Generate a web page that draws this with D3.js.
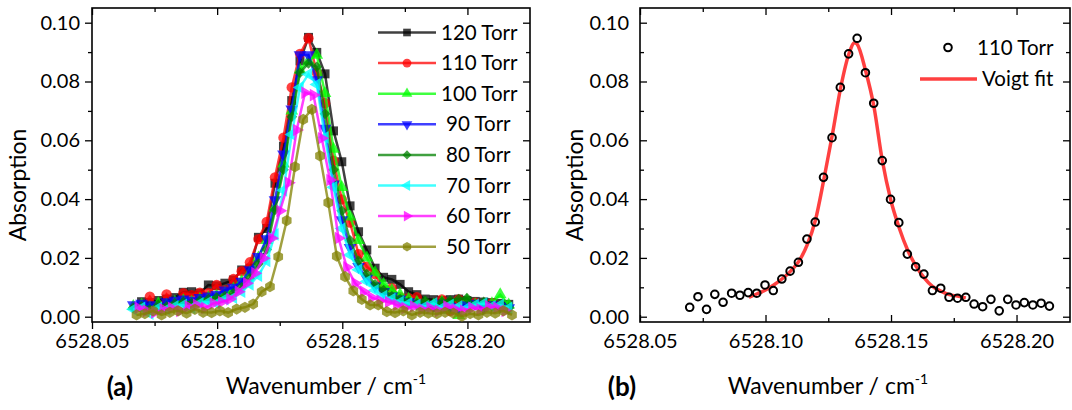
<!DOCTYPE html>
<meta charset="utf-8">
<style>
  body { margin: 0; background: #fff; }
  text { font-family: Lato, "Open Sans", sans-serif; fill: #000; }
</style>
<body>
<script src="https://cdn.jsdelivr.net/npm/d3@7"></script>
<script>
// wavenumber grid of the measurements (cm-1)
var wnGrid = [6528.0665, 6528.0698, 6528.0731, 6528.0765, 6528.0798, 6528.0831, 6528.0865, 6528.0898,
  6528.0931, 6528.0965, 6528.0998, 6528.1031, 6528.1065, 6528.1098, 6528.1131, 6528.1165, 6528.1198,
  6528.1231, 6528.1265, 6528.1298, 6528.1331, 6528.1365, 6528.1398, 6528.1431, 6528.1465, 6528.1498,
  6528.1531, 6528.1565, 6528.1598, 6528.1631, 6528.1665, 6528.1698, 6528.1731, 6528.1765, 6528.1798,
  6528.1831, 6528.1865, 6528.1898, 6528.1931, 6528.1965, 6528.1998, 6528.2031, 6528.2065, 6528.2098,
  6528.2131, 6528.2165];

var pressures = ["120 Torr", "110 Torr", "100 Torr", "90 Torr", "80 Torr", "70 Torr", "60 Torr", "50 Torr"];
// small line-centre shift of some scans (cm-1)
var shifts = [0, 0, 0, 0, 0, 0, 0.002, 0.0013];

var abs120 = [null, 0.0051, 0.0048, 0.0055, 0.0060, 0.0065, 0.0083, 0.0085, 0.0080, 0.0108, 0.0105, 0.0114,
  0.0125, 0.0159, 0.0165, 0.0270, 0.0300, 0.0454, 0.0580, 0.0735, 0.0870, 0.0950, 0.0899, 0.0826, 0.0632,
  0.0527, 0.0377, 0.0289, 0.0227, 0.0165, 0.0134, 0.0127, 0.0110, 0.0085, 0.0075, 0.0060, 0.0058, 0.0055,
  0.0058, 0.0060, 0.0055, 0.0052, 0.0050, 0.0048, 0.0045, 0.0042];
var abs110 = [null, 0.0032, 0.0068, 0.0025, 0.0076, 0.0049, 0.0080, 0.0073, 0.0082, 0.0080, 0.0108, 0.0089,
  0.0128, 0.0155, 0.0185, 0.0264, 0.0322, 0.0474, 0.0609, 0.0780, 0.0894, 0.0947, 0.0830, 0.0726, 0.0531,
  0.0399, 0.0320, 0.0213, 0.0170, 0.0145, 0.0089, 0.0097, 0.0066, 0.0063, 0.0066, 0.0043, 0.0034, 0.0059,
  0.0020, 0.0059, 0.0040, 0.0048, 0.0040, 0.0046, 0.0036, null];
var abs100 = [0.0035, 0.0040, 0.0030, 0.0045, 0.0040, 0.0050, 0.0055, 0.0050, 0.0060, 0.0065, 0.0070, 0.0080,
  0.0095, 0.0120, 0.0150, 0.0200, 0.0260, 0.0370, 0.0520, 0.0700, 0.0840, 0.0870, 0.0890, 0.0760, 0.0570,
  0.0440, 0.0340, 0.0260, 0.0200, 0.0150, 0.0110, 0.0090, 0.0075, 0.0060, 0.0050, 0.0045, 0.0040, 0.0050,
  0.0030, 0.0005, 0.0055, 0.0040, 0.0030, 0.0045, 0.0075, 0.0040];
var abs90 = [0.0040, 0.0045, 0.0040, 0.0035, 0.0050, 0.0055, 0.0060, 0.0055, 0.0065, 0.0070, 0.0075, 0.0090,
  0.0100, 0.0120, 0.0159, 0.0204, 0.0265, 0.0397, 0.0553, 0.0706, 0.0890, 0.0890, 0.0805, 0.0640, 0.0451,
  0.0329, 0.0235, 0.0170, 0.0130, 0.0105, 0.0085, 0.0070, 0.0060, 0.0050, 0.0045, 0.0040, 0.0038, 0.0045,
  0.0035, 0.0030, 0.0040, 0.0045, 0.0030, 0.0040, 0.0035, 0.0030];
var abs80 = [0.0030, 0.0035, 0.0025, 0.0040, 0.0035, 0.0045, 0.0050, 0.0045, 0.0055, 0.0060, 0.0065, 0.0070,
  0.0080, 0.0100, 0.0130, 0.0180, 0.0229, 0.0363, 0.0500, 0.0680, 0.0830, 0.0862, 0.0850, 0.0690, 0.0500,
  0.0360, 0.0260, 0.0190, 0.0145, 0.0110, 0.0090, 0.0070, 0.0060, 0.0050, 0.0045, 0.0055, 0.0040, 0.0050,
  0.0055, 0.0060, 0.0063, 0.0040, 0.0050, 0.0035, 0.0040, 0.0030];
var abs70 = [0.0025, 0.0030, 0.0010, 0.0030, 0.0025, 0.0035, 0.0040, 0.0030, 0.0045, 0.0050, 0.0045, 0.0060,
  0.0065, 0.0085, 0.0110, 0.0140, 0.0190, 0.0280, 0.0430, 0.0620, 0.0780, 0.0825, 0.0790, 0.0610, 0.0440,
  0.0300, 0.0210, 0.0160, 0.0120, 0.0090, 0.0070, 0.0060, 0.0050, 0.0045, 0.0040, 0.0035, 0.0045, 0.0030,
  0.0040, 0.0035, 0.0030, 0.0040, 0.0045, 0.0035, 0.0040, 0.0030];
var abs60 = [0.0030, 0.0020, 0.0015, 0.0025, 0.0030, 0.0020, 0.0035, 0.0040, 0.0030, 0.0045, 0.0050, 0.0060,
  0.0085, 0.0114, 0.0148, 0.0199, 0.0267, 0.0360, 0.0456, 0.0635, 0.0762, 0.0754, 0.0607, 0.0465, 0.0267,
  0.0168, 0.0114, 0.0085, 0.0065, 0.0055, 0.0050, 0.0040, 0.0030, 0.0035, 0.0025, 0.0030, 0.0020, 0.0035,
  0.0025, 0.0020, 0.0030, 0.0025, 0.0035, 0.0030, 0.0020, null];
var abs50 = [0.0006, 0.0010, 0.0020, 0.0006, 0.0015, 0.0020, 0.0012, 0.0025, 0.0015, 0.0014, 0.0020, 0.0014,
  0.0026, 0.0032, 0.0043, 0.0085, 0.0102, 0.0204, 0.0327, 0.0510, 0.0671, 0.0705, 0.0547, 0.0388, 0.0206,
  0.0136, 0.0088, 0.0059, 0.0040, 0.0040, 0.0017, 0.0014, 0.0020, 0.0006, 0.0015, 0.0012, 0.0010, 0.0015,
  0.0012, 0.0002, 0.0010, 0.0006, 0.0015, 0.0012, 0.0020, 0.0006];

// Voigt fit of the 110 Torr scan
var fitWn = [6528.0934, 6528.0967, 6528.1000, 6528.1033, 6528.1068, 6528.1101, 6528.1134, 6528.1166,
  6528.1199, 6528.1232, 6528.1266, 6528.1299, 6528.1333, 6528.1355, 6528.1365, 6528.1398, 6528.1432,
  6528.1465, 6528.1499, 6528.1533, 6528.1566, 6528.1599, 6528.1633, 6528.1665, 6528.1698, 6528.1732,
  6528.1765, 6528.1798];
var fitAbs = [0.0066, 0.0078, 0.0091, 0.0108, 0.0130, 0.0156, 0.0190, 0.0244, 0.0329, 0.0465, 0.0618,
  0.0777, 0.0896, 0.0932, 0.0927, 0.0839, 0.0714, 0.0533, 0.0397, 0.0301, 0.0227, 0.0173, 0.0131, 0.0103,
  0.0087, 0.0075, 0.0070, 0.0064];

var xTicks = [6528.05, 6528.10, 6528.15, 6528.20];
var xMinor = [6528.075, 6528.125, 6528.175];
var yTicks = [0, 0.02, 0.04, 0.06, 0.08, 0.10];
var yMinor = [0.01, 0.03, 0.05, 0.07, 0.09];

var allSeries = [abs120, abs110, abs100, abs90, abs80, abs70, abs60, abs50];
var colors = ["#000000", "#ff0000", "#00ff00", "#0000ff", "#008000", "#00ffff", "#ff00ff", "#808000"];

var svg = d3.select("body").append("svg")
  .attr("width", 1072)
  .attr("height", 410);

// marker shapes
function hexagon(r) {
  var p = d3.path();
  for (var k = 0; k < 6; k++) {
    var a = Math.PI / 6 + k * Math.PI / 3;
    if (k == 0) p.moveTo(r * Math.cos(a), r * Math.sin(a));
    else p.lineTo(r * Math.cos(a), r * Math.sin(a));
  }
  p.closePath();
  return p.toString();
}
var shapes = [
  d3.symbol(d3.symbolSquare, 81)(),
  d3.symbol(d3.symbolCircle, 85)(),
  d3.symbol(d3.symbolTriangle, 70)(),
  d3.symbol(d3.symbolTriangle, 70)(),
  d3.symbol(d3.symbolSquare, 58)(),
  d3.symbol(d3.symbolTriangle, 70)(),
  d3.symbol(d3.symbolTriangle, 70)(),
  hexagon(5.6)
];
var rotations = [0, 0, 0, 180, 45, -90, 90, 0];

function drawAxes(g, x, y, w, h, out) {
  var big = out ? 7 : -7, small = out ? 4 : -4;
  var fmt = d3.format(".2f");

  g.append("g").attr("transform", "translate(0," + h + ")")
    .call(d3.axisBottom(x).tickValues(xTicks).tickFormat(fmt).tickSize(big).tickPadding(out ? 5 : 12));
  g.append("g").attr("transform", "translate(0," + h + ")")
    .call(d3.axisBottom(x).tickValues(xMinor).tickFormat("").tickSize(small));
  g.append("g")
    .call(d3.axisTop(x).tickValues(xTicks).tickFormat("").tickSize(-7));
  g.append("g")
    .call(d3.axisTop(x).tickValues(xMinor).tickFormat("").tickSize(-4));

  g.append("g")
    .call(d3.axisLeft(y).tickValues(yTicks).tickFormat(fmt).tickSize(big).tickPadding(out ? 5 : 11));
  g.append("g")
    .call(d3.axisLeft(y).tickValues(yMinor).tickFormat("").tickSize(small));
  g.append("g").attr("transform", "translate(" + w + ",0)")
    .call(d3.axisRight(y).tickValues(yTicks).tickFormat("").tickSize(-7));
  g.append("g").attr("transform", "translate(" + w + ",0)")
    .call(d3.axisRight(y).tickValues(yMinor).tickFormat("").tickSize(-4));

  g.selectAll(".domain").remove();
  g.selectAll(".tick line").attr("stroke", "#000").attr("stroke-width", 1.3);
  g.selectAll(".tick text")
    .style("font-family", "Lato, 'Open Sans', sans-serif")
    .style("font-size", "20px")
    .attr("fill", "#000");

  g.append("rect")
    .attr("width", w)
    .attr("height", h)
    .attr("fill", "none")
    .attr("stroke", "#000")
    .attr("stroke-width", 1.6);
}

function titles(cx, ax, label) {
  svg.append("text")
    .attr("transform", "translate(" + ax + ",185) rotate(-90)")
    .attr("text-anchor", "middle")
    .attr("dy", "0.35em")
    .style("font-size", "23px")
    .text("Absorption");
  var t = svg.append("text")
    .attr("x", cx)
    .attr("y", 394)
    .attr("text-anchor", "middle")
    .style("font-size", "23px")
    .text("Wavenumber / cm");
  t.append("tspan")
    .attr("dy", -10)
    .style("font-size", "14px")
    .text("-1");
  svg.append("text")
    .attr("x", cx - 206)
    .attr("y", 396)
    .attr("text-anchor", "middle")
    .style("font-size", "26px")
    .style("font-weight", "bold")
    .text(label);
}

// ---------- panel (a) ----------
var hA = 314, wA = 438;
var gA = svg.append("g").attr("transform", "translate(92,8)");
var xA = d3.scaleLinear().domain([6528.05, 6528.225]).range([0, wA]);
var yA = d3.scaleLinear().domain([-0.0018, 0.105]).range([hA, 0]);

drawAxes(gA, xA, yA, wA, hA, true);

allSeries.forEach(function(vals, k) {
  var pts = [];
  vals.forEach(function(v, i) {
    if (v !== null) pts.push({x: wnGrid[i] + shifts[k], y: v});
  });
  var sg = gA.append("g");
  sg.append("path")
    .datum(pts)
    .attr("d", d3.line().x(function(d) { return xA(d.x); }).y(function(d) { return yA(d.y); }))
    .attr("fill", "none")
    .attr("stroke", colors[k])
    .attr("stroke-opacity", 0.75)
    .attr("stroke-width", 2.5);
  sg.selectAll(null)
    .data(pts)
    .enter()
    .append("path")
    .attr("d", shapes[k])
    .attr("transform", function(d) {
      return "translate(" + xA(d.x) + "," + yA(d.y) + ") rotate(" + rotations[k] + ")";
    })
    .attr("fill", colors[k])
    .attr("fill-opacity", 0.75);
});

// legend (a)
var legA = svg.append("g");
pressures.forEach(function(p, k) {
  var ly = 32.5 + k * 30.6;
  legA.append("line")
    .attr("x1", 378).attr("x2", 436)
    .attr("y1", ly).attr("y2", ly)
    .attr("stroke", colors[k])
    .attr("stroke-opacity", 0.75)
    .attr("stroke-width", 2.5);
  legA.append("path")
    .attr("d", shapes[k])
    .attr("transform", "translate(407," + ly + ") rotate(" + rotations[k] + ") scale(0.85)")
    .attr("fill", colors[k])
    .attr("fill-opacity", 0.75);
  legA.append("text")
    .attr("x", p.length > 7 ? 441 : 446)
    .attr("y", ly)
    .attr("dy", "0.35em")
    .style("font-size", "20.5px")
    .text(p);
});

titles(326, 18, "(a)");

// ---------- panel (b) ----------
var wB = 430, hB = 314;
var gB = svg.append("g").attr("transform", "translate(640,8)");
var xB = d3.scaleLinear().domain([6528.05, 6528.2213]).range([0, wB]);
var yB = d3.scaleLinear().domain([-0.0018, 0.105]).range([hB, 0]);

drawAxes(gB, xB, yB, wB, hB, false);

var fitPts = fitWn.map(function(w, i) { return {x: w, y: fitAbs[i]}; });
gB.append("path")
  .datum(fitPts)
  .attr("d", d3.line().curve(d3.curveMonotoneX)
    .x(function(d) { return xB(d.x); })
    .y(function(d) { return yB(d.y); }))
  .attr("fill", "none")
  .attr("stroke", "#ff0000")
  .attr("stroke-opacity", 0.75)
  .attr("stroke-width", 3.5);

var pts110 = [];
abs110.forEach(function(v, i) { if (v !== null) pts110.push({x: wnGrid[i], y: v}); });
gB.selectAll("circle.pt")
  .data(pts110)
  .enter()
  .append("circle")
  .attr("cx", function(d) { return xB(d.x); })
  .attr("cy", function(d) { return yB(d.y); })
  .attr("r", 3.8)
  .attr("fill", "none")
  .attr("stroke", "#000")
  .attr("stroke-width", 2);

// legend (b)
svg.append("circle")
  .attr("cx", 948).attr("cy", 47.5).attr("r", 3.8)
  .attr("fill", "none").attr("stroke", "#000").attr("stroke-width", 2);
svg.append("text")
  .attr("x", 977).attr("y", 47.5).attr("dy", "0.35em")
  .style("font-size", "20.5px")
  .text("110 Torr");
svg.append("line")
  .attr("x1", 920).attr("x2", 977)
  .attr("y1", 79).attr("y2", 79)
  .attr("stroke", "#ff0000").attr("stroke-opacity", 0.75).attr("stroke-width", 3.5);
svg.append("text")
  .attr("x", 982).attr("y", 79).attr("dy", "0.35em")
  .style("font-size", "20.5px")
  .text("Voigt fit");

titles(828, 575, "(b)");
</script>
</body>
